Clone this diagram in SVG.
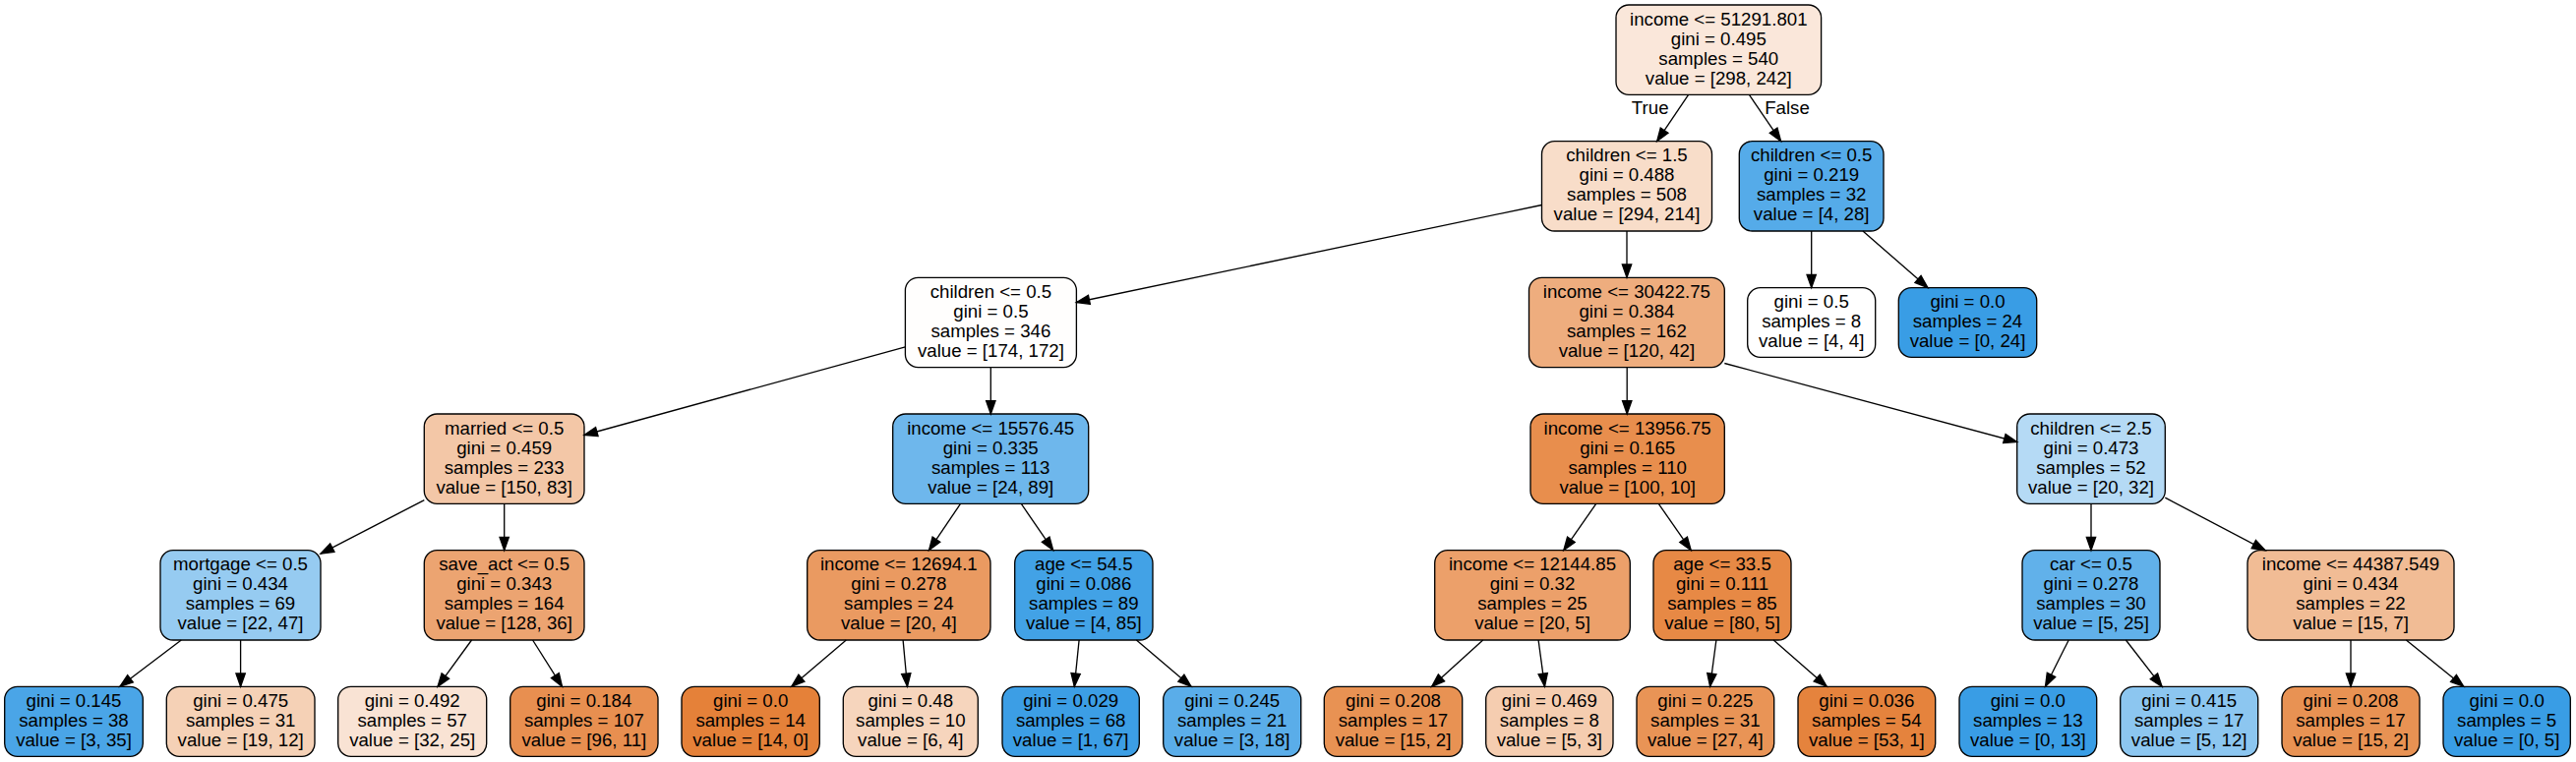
<svg xmlns="http://www.w3.org/2000/svg" width="2619" height="775" viewBox="0 0 2619 775">
<style>
.node rect{stroke:#000;stroke-width:1.33}
text{font-family:"Liberation Sans",Arial,Helvetica,sans-serif;font-size:18.67px;text-anchor:middle;fill:#000}
.edges line{stroke:#000;stroke-width:1.33;marker-end:url(#arr)}
</style>
<defs>
<marker id="arr" markerUnits="userSpaceOnUse" markerWidth="16" markerHeight="12" refX="13.3" refY="4.67" orient="auto" overflow="visible"><path d="M0,0 L13.3,4.67 L0,9.33 Z" fill="#000" stroke="#000" stroke-width="1.33" stroke-linejoin="miter"/></marker>
</defs>
<rect x="0" y="0" width="2619" height="775" fill="#fff"/>
<g id="n0" class="node"><rect x="1643" y="5" width="208.6" height="91.3" rx="13" fill="#fae7da"/><text x="1747.3" y="25.75">income &lt;= 51291.801</text><text x="1747.3" y="45.75">gini = 0.495</text><text x="1747.3" y="65.75">samples = 540</text><text x="1747.3" y="85.75">value = [298, 242]</text></g>
<g id="n1" class="node"><rect x="1567.5" y="143.7" width="173" height="91.3" rx="13" fill="#f8ddc9"/><text x="1654" y="164.45">children &lt;= 1.5</text><text x="1654" y="184.45">gini = 0.488</text><text x="1654" y="204.45">samples = 508</text><text x="1654" y="224.45">value = [294, 214]</text></g>
<g id="n2" class="node"><rect x="1768.3" y="143.7" width="146.7" height="91.3" rx="13" fill="#55abe9"/><text x="1841.7" y="164.45">children &lt;= 0.5</text><text x="1841.7" y="184.45">gini = 0.219</text><text x="1841.7" y="204.45">samples = 32</text><text x="1841.7" y="224.45">value = [4, 28]</text></g>
<g id="n3" class="node"><rect x="920.4" y="282.3" width="174" height="91.3" rx="13" fill="#fffefd"/><text x="1007.4" y="303.05">children &lt;= 0.5</text><text x="1007.4" y="323.05">gini = 0.5</text><text x="1007.4" y="343.05">samples = 346</text><text x="1007.4" y="363.05">value = [174, 172]</text></g>
<g id="n4" class="node"><rect x="1554.5" y="282.3" width="198.8" height="91.3" rx="13" fill="#eead7e"/><text x="1653.9" y="303.05">income &lt;= 30422.75</text><text x="1653.9" y="323.05">gini = 0.384</text><text x="1653.9" y="343.05">samples = 162</text><text x="1653.9" y="363.05">value = [120, 42]</text></g>
<g id="n5" class="node"><rect x="1776.7" y="292.6" width="130" height="70.7" rx="13" fill="#ffffff"/><text x="1841.7" y="313.05">gini = 0.5</text><text x="1841.7" y="333.05">samples = 8</text><text x="1841.7" y="353.05">value = [4, 4]</text></g>
<g id="n6" class="node"><rect x="1930.3" y="292.6" width="140.4" height="70.7" rx="13" fill="#399de5"/><text x="2000.5" y="313.05">gini = 0.0</text><text x="2000.5" y="333.05">samples = 24</text><text x="2000.5" y="353.05">value = [0, 24]</text></g>
<g id="n7" class="node"><rect x="431.3" y="421" width="162.7" height="91.3" rx="13" fill="#f3c7a7"/><text x="512.65" y="441.75">married &lt;= 0.5</text><text x="512.65" y="461.75">gini = 0.459</text><text x="512.65" y="481.75">samples = 233</text><text x="512.65" y="501.75">value = [150, 83]</text></g>
<g id="n8" class="node"><rect x="907.7" y="421" width="199" height="91.3" rx="13" fill="#6eb7ec"/><text x="1007.2" y="441.75">income &lt;= 15576.45</text><text x="1007.2" y="461.75">gini = 0.335</text><text x="1007.2" y="481.75">samples = 113</text><text x="1007.2" y="501.75">value = [24, 89]</text></g>
<g id="n9" class="node"><rect x="1556" y="421" width="197.3" height="91.3" rx="13" fill="#e88e4d"/><text x="1654.65" y="441.75">income &lt;= 13956.75</text><text x="1654.65" y="461.75">gini = 0.165</text><text x="1654.65" y="481.75">samples = 110</text><text x="1654.65" y="501.75">value = [100, 10]</text></g>
<g id="n10" class="node"><rect x="2050.7" y="421" width="150.6" height="91.3" rx="13" fill="#b5daf5"/><text x="2126" y="441.75">children &lt;= 2.5</text><text x="2126" y="461.75">gini = 0.473</text><text x="2126" y="481.75">samples = 52</text><text x="2126" y="501.75">value = [20, 32]</text></g>
<g id="n11" class="node"><rect x="163" y="559.7" width="163" height="91.3" rx="13" fill="#96cbf1"/><text x="244.5" y="580.45">mortgage &lt;= 0.5</text><text x="244.5" y="600.45">gini = 0.434</text><text x="244.5" y="620.45">samples = 69</text><text x="244.5" y="640.45">value = [22, 47]</text></g>
<g id="n12" class="node"><rect x="431.3" y="559.7" width="162.7" height="91.3" rx="13" fill="#eca471"/><text x="512.65" y="580.45">save_act &lt;= 0.5</text><text x="512.65" y="600.45">gini = 0.343</text><text x="512.65" y="620.45">samples = 164</text><text x="512.65" y="640.45">value = [128, 36]</text></g>
<g id="n13" class="node"><rect x="820.7" y="559.7" width="186.3" height="91.3" rx="13" fill="#ea9a61"/><text x="913.85" y="580.45">income &lt;= 12694.1</text><text x="913.85" y="600.45">gini = 0.278</text><text x="913.85" y="620.45">samples = 24</text><text x="913.85" y="640.45">value = [20, 4]</text></g>
<g id="n14" class="node"><rect x="1031.7" y="559.7" width="140.3" height="91.3" rx="13" fill="#42a2e6"/><text x="1101.85" y="580.45">age &lt;= 54.5</text><text x="1101.85" y="600.45">gini = 0.086</text><text x="1101.85" y="620.45">samples = 89</text><text x="1101.85" y="640.45">value = [4, 85]</text></g>
<g id="n15" class="node"><rect x="1458.7" y="559.7" width="198.6" height="91.3" rx="13" fill="#eca06a"/><text x="1558" y="580.45">income &lt;= 12144.85</text><text x="1558" y="600.45">gini = 0.32</text><text x="1558" y="620.45">samples = 25</text><text x="1558" y="640.45">value = [20, 5]</text></g>
<g id="n16" class="node"><rect x="1681" y="559.7" width="140" height="91.3" rx="13" fill="#e78945"/><text x="1751" y="580.45">age &lt;= 33.5</text><text x="1751" y="600.45">gini = 0.111</text><text x="1751" y="620.45">samples = 85</text><text x="1751" y="640.45">value = [80, 5]</text></g>
<g id="n17" class="node"><rect x="2056" y="559.7" width="140" height="91.3" rx="13" fill="#61b1ea"/><text x="2126" y="580.45">car &lt;= 0.5</text><text x="2126" y="600.45">gini = 0.278</text><text x="2126" y="620.45">samples = 30</text><text x="2126" y="640.45">value = [5, 25]</text></g>
<g id="n18" class="node"><rect x="2285" y="559.7" width="210" height="91.3" rx="13" fill="#f1bc95"/><text x="2390" y="580.45">income &lt;= 44387.549</text><text x="2390" y="600.45">gini = 0.434</text><text x="2390" y="620.45">samples = 22</text><text x="2390" y="640.45">value = [15, 7]</text></g>
<g id="l1" class="node"><rect x="4.7" y="698.3" width="140.6" height="71" rx="13" fill="#4aa5e7"/><text x="75" y="718.9">gini = 0.145</text><text x="75" y="738.9">samples = 38</text><text x="75" y="758.9">value = [3, 35]</text></g>
<g id="l2" class="node"><rect x="169.3" y="698.3" width="150.7" height="71" rx="13" fill="#f5d1b6"/><text x="244.65" y="718.9">gini = 0.475</text><text x="244.65" y="738.9">samples = 31</text><text x="244.65" y="758.9">value = [19, 12]</text></g>
<g id="l3" class="node"><rect x="343.7" y="698.3" width="151" height="71" rx="13" fill="#f9e3d4"/><text x="419.2" y="718.9">gini = 0.492</text><text x="419.2" y="738.9">samples = 57</text><text x="419.2" y="758.9">value = [32, 25]</text></g>
<g id="l4" class="node"><rect x="518.7" y="698.3" width="150.3" height="71" rx="13" fill="#e88f50"/><text x="593.85" y="718.9">gini = 0.184</text><text x="593.85" y="738.9">samples = 107</text><text x="593.85" y="758.9">value = [96, 11]</text></g>
<g id="l5" class="node"><rect x="693" y="698.3" width="140.3" height="71" rx="13" fill="#e58139"/><text x="763.15" y="718.9">gini = 0.0</text><text x="763.15" y="738.9">samples = 14</text><text x="763.15" y="758.9">value = [14, 0]</text></g>
<g id="l6" class="node"><rect x="857.3" y="698.3" width="137" height="71" rx="13" fill="#f6d5bd"/><text x="925.8" y="718.9">gini = 0.48</text><text x="925.8" y="738.9">samples = 10</text><text x="925.8" y="758.9">value = [6, 4]</text></g>
<g id="l7" class="node"><rect x="1019" y="698.3" width="139.3" height="71" rx="13" fill="#3c9ee5"/><text x="1088.65" y="718.9">gini = 0.029</text><text x="1088.65" y="738.9">samples = 68</text><text x="1088.65" y="758.9">value = [1, 67]</text></g>
<g id="l8" class="node"><rect x="1182.7" y="698.3" width="140" height="71" rx="13" fill="#5aade9"/><text x="1252.7" y="718.9">gini = 0.245</text><text x="1252.7" y="738.9">samples = 21</text><text x="1252.7" y="758.9">value = [3, 18]</text></g>
<g id="l9" class="node"><rect x="1346.3" y="698.3" width="140.4" height="71" rx="13" fill="#e89253"/><text x="1416.5" y="718.9">gini = 0.208</text><text x="1416.5" y="738.9">samples = 17</text><text x="1416.5" y="758.9">value = [15, 2]</text></g>
<g id="l10" class="node"><rect x="1510.7" y="698.3" width="129.3" height="71" rx="13" fill="#f5cdb0"/><text x="1575.35" y="718.9">gini = 0.469</text><text x="1575.35" y="738.9">samples = 8</text><text x="1575.35" y="758.9">value = [5, 3]</text></g>
<g id="l11" class="node"><rect x="1664" y="698.3" width="139.7" height="71" rx="13" fill="#e99456"/><text x="1733.85" y="718.9">gini = 0.225</text><text x="1733.85" y="738.9">samples = 31</text><text x="1733.85" y="758.9">value = [27, 4]</text></g>
<g id="l12" class="node"><rect x="1828" y="698.3" width="139.7" height="71" rx="13" fill="#e5833d"/><text x="1897.85" y="718.9">gini = 0.036</text><text x="1897.85" y="738.9">samples = 54</text><text x="1897.85" y="758.9">value = [53, 1]</text></g>
<g id="l13" class="node"><rect x="1992" y="698.3" width="139.7" height="71" rx="13" fill="#399de5"/><text x="2061.85" y="718.9">gini = 0.0</text><text x="2061.85" y="738.9">samples = 13</text><text x="2061.85" y="758.9">value = [0, 13]</text></g>
<g id="l14" class="node"><rect x="2155.7" y="698.3" width="140" height="71" rx="13" fill="#8cc6f0"/><text x="2225.7" y="718.9">gini = 0.415</text><text x="2225.7" y="738.9">samples = 17</text><text x="2225.7" y="758.9">value = [5, 12]</text></g>
<g id="l15" class="node"><rect x="2320" y="698.3" width="140" height="71" rx="13" fill="#e89253"/><text x="2390" y="718.9">gini = 0.208</text><text x="2390" y="738.9">samples = 17</text><text x="2390" y="758.9">value = [15, 2]</text></g>
<g id="l16" class="node"><rect x="2484" y="698.3" width="129.3" height="71" rx="13" fill="#399de5"/><text x="2548.65" y="718.9">gini = 0.0</text><text x="2548.65" y="738.9">samples = 5</text><text x="2548.65" y="758.9">value = [0, 5]</text></g>
<g id="connectors" class="edges">
<line x1="1716.6" y1="96.3" x2="1684.7" y2="143.7"/>
<line x1="1778.4" y1="96.3" x2="1810.6" y2="143.7"/>
<line x1="1567.5" y1="208.5" x2="1094.4" y2="307.5"/>
<line x1="1654" y1="235" x2="1654" y2="282.3"/>
<line x1="1841.7" y1="235" x2="1841.7" y2="292.6"/>
<line x1="1894" y1="235" x2="1960" y2="292.6"/>
<line x1="920.4" y1="352.8" x2="594" y2="442.5"/>
<line x1="1007.3" y1="373.6" x2="1007.3" y2="421"/>
<line x1="1654.2" y1="373.6" x2="1654.2" y2="421"/>
<line x1="1753.3" y1="369.5" x2="2050.7" y2="449.5"/>
<line x1="431.3" y1="508.7" x2="326" y2="563.2"/>
<line x1="512.7" y1="512.3" x2="512.7" y2="559.7"/>
<line x1="976.5" y1="512.3" x2="944.5" y2="559.7"/>
<line x1="1038.3" y1="512.3" x2="1070.7" y2="559.7"/>
<line x1="1622.7" y1="512.3" x2="1589.8" y2="559.7"/>
<line x1="1686.3" y1="512.3" x2="1719.2" y2="559.7"/>
<line x1="2126" y1="512.3" x2="2126" y2="559.7"/>
<line x1="2201.3" y1="506.2" x2="2303.1" y2="559.7"/>
<line x1="184.3" y1="651" x2="121.9" y2="698.3"/>
<line x1="244.6" y1="651" x2="244.6" y2="698.3"/>
<line x1="479.5" y1="651" x2="445" y2="698.3"/>
<line x1="541.6" y1="651" x2="571.5" y2="698.3"/>
<line x1="860.3" y1="651" x2="804.8" y2="698.3"/>
<line x1="918.1" y1="651" x2="922.5" y2="698.3"/>
<line x1="1097.1" y1="651" x2="1092.3" y2="698.3"/>
<line x1="1155.4" y1="651" x2="1211" y2="698.3"/>
<line x1="1507.7" y1="651" x2="1455.6" y2="698.3"/>
<line x1="1564.1" y1="651" x2="1570.5" y2="698.3"/>
<line x1="1744.9" y1="651" x2="1738.6" y2="698.3"/>
<line x1="1803.2" y1="651" x2="1857.2" y2="698.3"/>
<line x1="2103.2" y1="651" x2="2079.5" y2="698.3"/>
<line x1="2161.4" y1="651" x2="2198.1" y2="698.3"/>
<line x1="2390" y1="651" x2="2390" y2="698.3"/>
<line x1="2446.4" y1="651" x2="2504.8" y2="698.3"/>
<text x="1677.7" y="116">True</text>
<text x="1817" y="116">False</text>
</g>
</svg>
